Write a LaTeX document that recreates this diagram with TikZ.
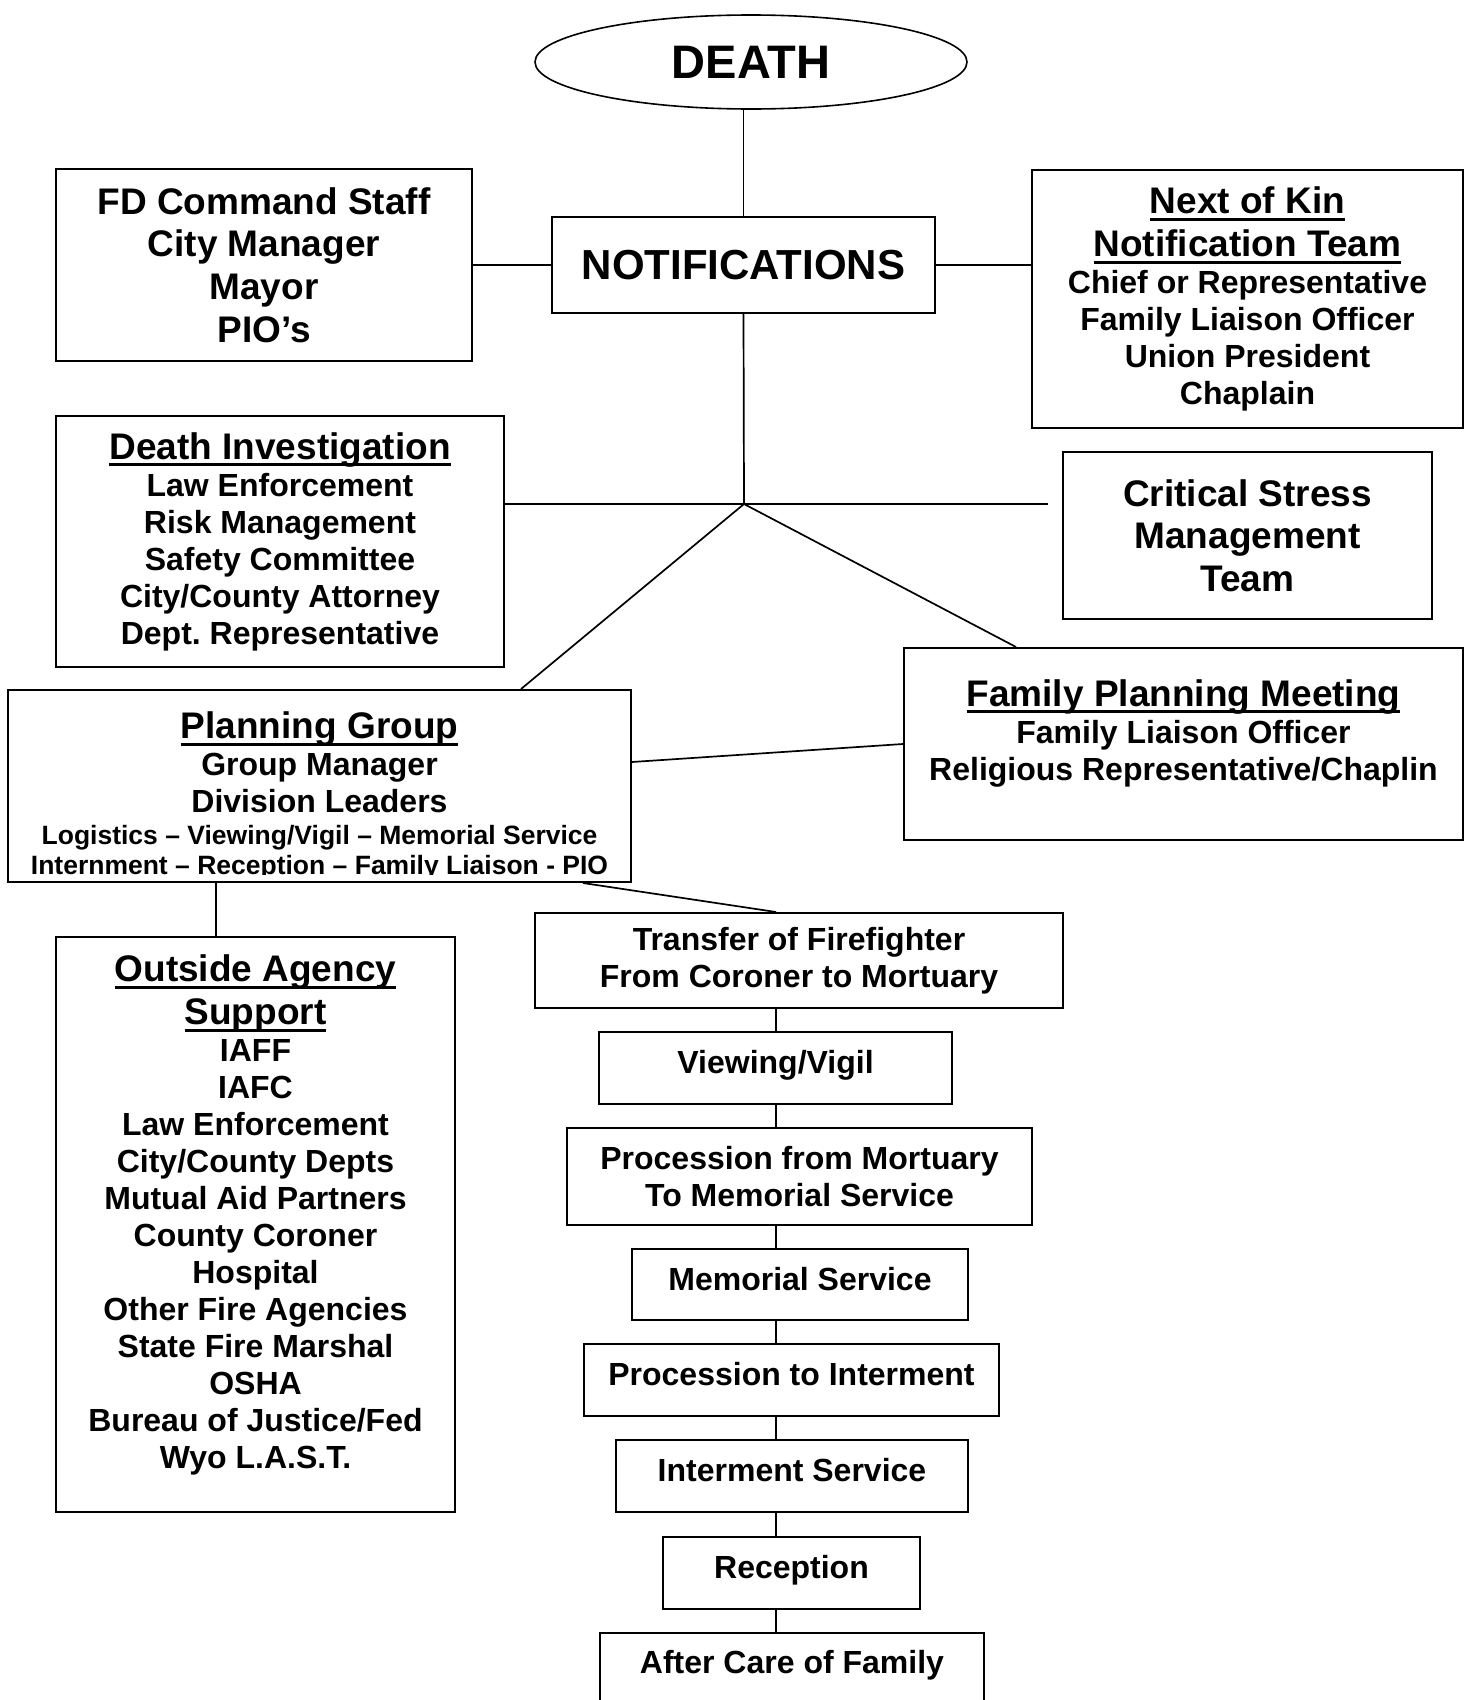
\documentclass[tikz,border=0pt]{standalone}
\usepackage{fontspec}
\setmainfont{Liberation Sans}
\usetikzlibrary{shapes.geometric,calc}
\frenchspacing

\newcommand\deathfont{\fontsize{47}{54}\selectfont\bfseries}
\newcommand\notiffont{\fontsize{42}{48}\selectfont\bfseries}
\newcommand\headfont{\fontsize{37}{42.6}\selectfont\bfseries}
\newcommand\itemfont{\fontsize{32}{37}\selectfont\bfseries}
\newcommand\smallfont{\fontsize{26.5}{30.4}\selectfont\bfseries}
\newsavebox\hdbox
\newcommand\hdline[1]{\sbox\hdbox{#1}\rlap{\rule[-7pt]{\wd\hdbox}{3pt}}\usebox\hdbox}
\newcommand\hd[1]{{\headfont\hdline{#1}}}

\tikzset{
  box/.style={draw, line width=2pt, inner sep=0pt, align=center, font=\itemfont},
  single/.style={text height=23.4pt, text depth=12pt},
  oval/.style={
    ellipse, draw, line width=1.6pt, inner sep=0pt,
    minimum width=432pt, minimum height=94pt, font=\deathfont
  },
  boxtext/.style={align=center, font=\itemfont, inner sep=0pt},
  link/.style={line width=1.7pt},
}

\begin{document}
\begin{tikzpicture}[x=1pt, y=-1pt]
  \useasboundingbox (0,0) rectangle (1473,1700);
  \clip (0,0) rectangle (1473,1700);

  % ===== top: death and the notification row =====
  \node[oval] (death) at (751,62) {DEATH};
  \node[box, font=\notiffont, minimum width=383pt, minimum height=96pt] (notif) at (743.5,265) {NOTIFICATIONS};
  \node[box, font=\headfont, minimum width=416pt, minimum height=192pt] (staff) at (264,265)
    {FD Command Staff\\City Manager\\Mayor\\PIO’s};
  \node[box, minimum width=431pt, minimum height=258pt] (kin) at (1247.5,299)
    {\hd{Next of Kin}\\[6pt]\hd{Notification Team}\\Chief or Representative\\Family Liaison Officer\\Union President\\Chaplain};

  % ===== middle band =====
  \node[box, minimum width=448pt, minimum height=251pt] (invest) at (280,541.5)
    {\hd{Death Investigation}\\Law Enforcement\\Risk Management\\Safety Committee\\City/County Attorney\\Dept. Representative};
  \node[box, font=\headfont, minimum width=369pt, minimum height=167pt] (stress) at (1247.5,535.5)
    {Critical Stress\\Management\\Team};

  % planning group, last line cut off by the box
  \node[box, minimum width=623pt, minimum height=192pt] (plan) at (319.5,786) {};
  \begin{scope}
    \clip (plan.north west) rectangle ([yshift=9pt]plan.south east);
    \node[boxtext] (plantext) at (319.5,796)
      {\hd{Planning Group}\\Group Manager\\Division Leaders\\[-5.4pt]%
       {\smallfont Logistics – Viewing/Vigil – Memorial Service}\\[-6.6pt]%
       {\smallfont Internment – Reception – Family Liaison - PIO}};
  \end{scope}

  \node[box, minimum width=559pt, minimum height=192pt] (family) at (1183.5,744) {};
  \node[boxtext] (familytext) at (1183.5,733)
    {\hd{Family Planning Meeting}\\Family Liaison Officer\\Religious Representative/Chaplin};

  % ===== left column: outside agencies =====
  \node[box, minimum width=399pt, minimum height=575pt] (agency) at (255.5,1224.5) {};
  \node[boxtext] (agencytext) at (255.5,1215)
    {\hd{Outside Agency}\\[6pt]\hd{Support}\\IAFF\\IAFC\\Law Enforcement\\City/County Depts\\%
     Mutual Aid Partners\\County Coroner\\Hospital\\Other Fire Agencies\\State Fire Marshal\\%
     OSHA\\Bureau of Justice/Fed\\Wyo L.A.S.T.};

  % ===== right column: the service chain =====
  \node[box, minimum width=528pt, minimum height=95pt] (transfer) at (799,960.5)
    {Transfer of Firefighter\\From Coroner to Mortuary};
  \node[box, single, minimum width=353pt, minimum height=72pt] (vigil) at (775.5,1068) {Viewing/Vigil};
  \node[box, minimum width=465pt, minimum height=97pt] (procmort) at (799.5,1176.5)
    {Procession from Mortuary\\To Memorial Service};
  \node[box, single, minimum width=336pt, minimum height=71pt] (memorial) at (800,1284.5) {Memorial Service};
  \node[box, single, minimum width=415pt, minimum height=72pt] (procint) at (791.5,1380) {Procession to Interment};
  \node[box, single, minimum width=352pt, minimum height=72pt] (interment) at (792,1476) {Interment Service};
  \node[box, single, minimum width=257pt, minimum height=72pt] (reception) at (791.5,1572.5) {Reception};
  \node[box, minimum width=384pt, minimum height=100pt] (aftercare) at (792,1683) {};
  \node[boxtext] (aftercaretext) at (792,1665) {After Care of Family};

  % ===== connectors =====
  \coordinate (hub) at (744,504);
  \coordinate (stressgap) at (1048,504);
  \coordinate (spine) at (776,0);

  \draw[link] (death.south -| notif.north) -- (notif.north);
  \draw[link] (staff.east) -- (notif.west);
  \draw[link] (notif.east) -- (notif.east -| kin.west);
  \draw[link] (notif.south) -- (hub);
  \draw[link] (invest.east |- hub) -- (stressgap);
  \draw[link] (hub) -- ([xshift=201.5pt]plan.north);
  \draw[link] (hub) -- ([xshift=-167.5pt]family.north);
  \draw[link] ([yshift=24pt]plan.east) -- (family.west);
  \draw[link] ([xshift=-39.5pt]agency.north) -- ([xshift=-39.5pt]agency.north |- plan.south);
  \draw[link] ([xshift=263.5pt]plan.south) -- ([xshift=-23pt]transfer.north);
  \foreach \a/\b in {transfer/vigil, vigil/procmort, procmort/memorial, memorial/procint,
                     procint/interment, interment/reception, reception/aftercare}
    \draw[link] (spine |- \a.south) -- (spine |- \b.north);

\end{tikzpicture}
\end{document}
